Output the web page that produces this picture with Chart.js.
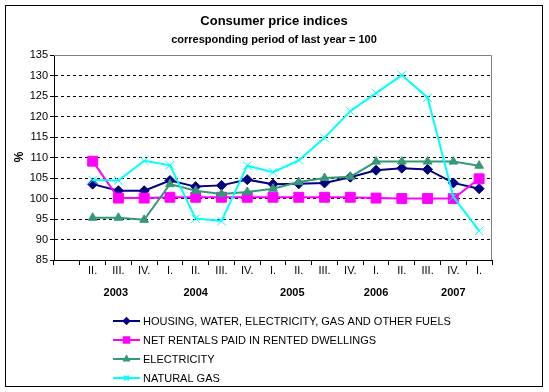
<!DOCTYPE html>
<html>
<head>
<meta charset="utf-8">
<script src="https://cdn.jsdelivr.net/npm/chart.js@4.4.1/dist/chart.umd.min.js"></script>
<style>
    html, body { margin: 0; padding: 0; background: #fff; }
    #wrap { width: 549px; height: 392px; position: relative; }
</style>
</head>
<body>
<div id="wrap"><canvas id="cpiChart"></canvas></div>
<script>
// quarters (first slot is empty, like in the original sheet)
const quarters = ['', 'II.', 'III.', 'IV.', 'I.', 'II.', 'III.', 'IV.', 'I.', 'II.', 'III.', 'IV.', 'I.', 'II.', 'III.', 'IV.', 'I.'];
const years = ['2003', '2004', '2005', '2006', '2007'];
const yearSlots = [1.9, 5, 8.75, 12, 15];

const housing = [null, 103.5, 101.9, 101.9, 104.4, 102.9, 103.2, 104.6, 103.5, 103.6, 103.8, 105.2, 106.9, 107.4, 107.1, 103.8, 102.4];
const rentals = [null, 109.1, 100.1, 100.1, 100.3, 100.3, 100.3, 100.3, 100.3, 100.3, 100.3, 100.3, 100.1, 100.0, 100.0, 100.0, 104.8];
const electricity = [null, 95.3, 95.3, 94.8, 103.5, 101.9, 101.1, 101.6, 102.4, 104.0, 105.0, 105.3, 109.0, 109.0, 109.0, 109.0, 108.0];
const naturalGas = [null, 104.5, 104.4, 109.2, 108.1, 95.1, 94.5, 108.0, 106.4, 109.3, 114.8, 121.3, 125.7, 130.1, 124.6, 100.4, 92.1];

const FONT = 'Arial, "Liberation Sans", sans-serif';

const series = [
    { label: 'HOUSING, WATER, ELECTRICITY, GAS AND OTHER FUELS', data: housing, color: '#000080', style: 'rectRot', radius: 5, order: 4 },
    { label: 'NET RENTALS PAID IN RENTED DWELLINGS', data: rentals, color: '#ff00ff', style: 'rect', radius: 7, order: 3 },
    { label: 'ELECTRICITY', data: electricity, color: '#339977', style: 'triangle', radius: 5, order: 2 },
    { label: 'NATURAL GAS', data: naturalGas, color: '#00ffff', style: 'crossRot', radius: 6, order: 1 }
];

// titles, frame, year row and legend
const decor = {
    id: 'decor',
    beforeDraw(chart) {
        const ctx = chart.ctx;
        ctx.save();
        ctx.fillStyle = '#fff';
        ctx.fillRect(0, 0, chart.width, chart.height);
        ctx.strokeStyle = '#000';
        ctx.lineWidth = 1;
        ctx.strokeRect(5.5, 5.5, 537, 381);
        ctx.restore();
    },
    beforeDatasetsDraw(chart) {
        const ctx = chart.ctx;
        const a = chart.chartArea;
        ctx.save();
        ctx.strokeStyle = '#808080';
        ctx.lineWidth = 1;
        ctx.beginPath();
        ctx.moveTo(a.left, a.top + 0.5);
        ctx.lineTo(a.right - 0.5, a.top + 0.5);
        ctx.lineTo(a.right - 0.5, a.bottom);
        ctx.stroke();
        ctx.restore();
    },
    afterDraw(chart) {
        const ctx = chart.ctx;
        const xScale = chart.scales.x;
        ctx.save();
        ctx.fillStyle = '#000';
        ctx.textAlign = 'center';
        ctx.textBaseline = 'middle';

        ctx.font = 'bold 13px ' + FONT;
        ctx.fillText('Consumer price indices', 274, 21);
        ctx.font = 'bold 11px ' + FONT;
        ctx.fillText('corresponding period of last year = 100', 274, 40);

        // year row
        years.forEach((y, i) => {
            ctx.fillText(y, xScale.getPixelForValue(yearSlots[i]), 293);
        });

        // axis title
        ctx.save();
        ctx.translate(20, 157);
        ctx.rotate(-Math.PI / 2);
        ctx.font = 'bold 12px ' + FONT;
        ctx.fillText('%', 0, 0);
        ctx.restore();

        // legend
        ctx.textAlign = 'left';
        ctx.font = '11px ' + FONT;
        series.forEach((s, i) => {
            const y = 321 + i * 19;
            ctx.strokeStyle = s.color;
            ctx.lineWidth = 2;
            ctx.beginPath();
            ctx.moveTo(113, y);
            ctx.lineTo(140, y);
            ctx.stroke();
            ctx.fillStyle = s.color;
            Chart.helpers.drawPoint(ctx, {
                pointStyle: s.style, radius: s.radius * 0.55, rotation: 0, borderWidth: 1
            }, 126.5, y);
            ctx.fillStyle = '#000';
            ctx.fillText(s.label, 143, y + 0.5);
        });
        ctx.restore();
    }
};

new Chart(document.getElementById('cpiChart'), {
    type: 'line',
    data: {
        labels: quarters,
        datasets: series.map(s => ({
            label: s.label,
            data: s.data,
            borderColor: s.color,
            backgroundColor: s.color,
            borderWidth: 2,
            pointStyle: s.style,
            pointRadius: s.radius,
            pointBorderWidth: 1,
            pointBorderColor: s.color,
            pointBackgroundColor: s.color,
            tension: 0,
            order: s.order
        }))
    },
    options: {
        responsive: true,
        maintainAspectRatio: false,
        animation: false,
        events: [],
        layout: { padding: { left: 0, top: 55, right: 57, bottom: 102 } },
        plugins: {
            legend: { display: false },
            tooltip: { enabled: false },
            title: { display: false }
        },
        scales: {
            x: {
                offset: true,
                afterFit(scale) { scale.height = 30; },
                border: { display: true, color: '#000', width: 1 },
                grid: {
                    offset: true,
                    drawOnChartArea: false,
                    drawTicks: true,
                    tickLength: 5,
                    color: '#000'
                },
                ticks: {
                    autoSkip: false,
                    maxRotation: 0,
                    padding: -1,
                    color: '#000',
                    font: { family: FONT, size: 11 }
                }
            },
            y: {
                min: 85,
                max: 135,
                afterFit(scale) { scale.width = 54; },
                // dash here applies to the horizontal grid lines
                border: { display: true, color: '#000', width: 1, dash: [3, 3] },
                grid: {
                    color: ctx => (ctx.tick && (ctx.tick.value === 85 || ctx.tick.value === 135)) ? 'rgba(0,0,0,0)' : '#000',
                    tickColor: '#000',
                    tickLength: 4,
                    tickBorderDash: [],
                    lineWidth: 1
                },
                ticks: {
                    stepSize: 5,
                    padding: 2,
                    color: '#000',
                    font: { family: FONT, size: 11 }
                }
            }
        }
    },
    plugins: [decor]
});
</script>
</body>
</html>
